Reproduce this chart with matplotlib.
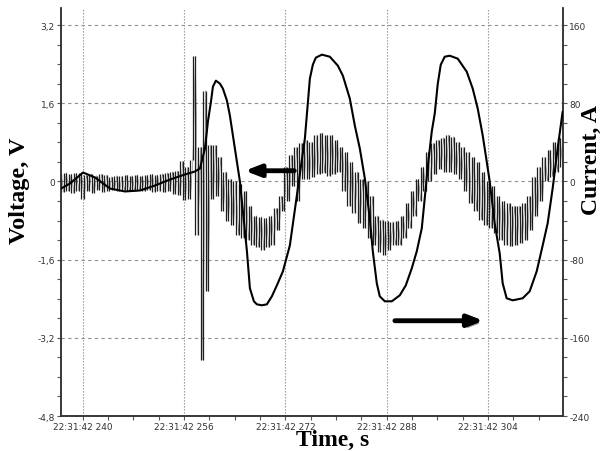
import numpy as np
import matplotlib
matplotlib.use("Agg")
import matplotlib.pyplot as plt
import matplotlib.patheffects as pe
from matplotlib.ticker import FixedLocator, MultipleLocator

# ---------------- data ----------------
# time axis in ms after 22:31:42
v_t0 = 236.6
v_step = 0.4
voltage = [
    0.16, -0.22, 0.18, -0.20, 0.15, -0.24, 0.17, -0.20, 0.18, -0.36,
    0.14, -0.20, 0.16, -0.23, 0.12, -0.18, 0.15, -0.21, 0.13, -0.20,
    0.10, -0.17, 0.12, -0.20, 0.11, -0.18, 0.13, -0.20, 0.12, -0.19,
    0.14, -0.17, 0.12, -0.20, 0.13, -0.18, 0.15, -0.21, 0.14, -0.20,
    0.16, -0.22, 0.18, -0.20, 0.20, -0.25, 0.22, -0.28, 0.42, -0.38,
    0.30, -0.35, 0.45, 2.57, -1.10, 0.70, -3.66, 1.86, -2.25, 0.75,
    -0.35, 0.74, -0.30, 0.50, -0.60, 0.20, -0.80, 0.05, -0.90, 0.00,
    -1.10, -0.05, -1.15, -0.20, -1.20, -0.50, -1.30, -0.70, -1.35, -0.72,
    -1.40, -0.75, -1.35, -0.70, -1.30, -0.55, -1.00, -0.30, -0.60, 0.30,
    -0.40, 0.55, -0.10, 0.70, -0.40, 0.78, 0.05, 0.84, 0.05, 0.80,
    0.10, 0.95, 0.15, 1.00, 0.18, 0.95, 0.12, 0.95, 0.15, 0.85,
    0.20, 0.70, -0.20, 0.60, -0.50, 0.40, -0.65, 0.20, -0.85, 0.05,
    -0.95, 0.00, -1.15, -0.30, -1.30, -0.70, -1.45, -0.78, -1.50, -0.80,
    -1.40, -0.82, -1.30, -0.80, -1.30, -0.70, -1.15, -0.45, -0.96, -0.20,
    -0.70, 0.05, -0.40, 0.30, -0.20, 0.60, 0.00, 0.78, 0.15, 0.85,
    0.25, 0.90, 0.20, 0.95, 0.20, 0.92, 0.15, 0.80, 0.05, 0.70,
    -0.20, 0.60, -0.45, 0.50, -0.60, 0.40, -0.78, 0.20, -0.90, 0.00,
    -0.95, -0.10, -1.05, -0.30, -1.20, -0.40, -1.30, -0.45, -1.33, -0.50,
    -1.30, -0.50, -1.25, -0.45, -1.20, -0.30, -1.00, 0.10, -0.70, 0.30,
    -0.40, 0.50, 0.00, 0.65, 0.10, 0.80, 0.20, 0.90, 0.30,
]

current_t = [
    236.58, 238.00, 240.05, 241.94, 244.31, 246.67, 249.04, 251.41, 253.78, 256.14,
    257.72, 258.51, 259.30, 259.77, 260.25, 260.56, 261.03, 261.67, 262.14, 262.77,
    263.24, 264.03, 264.82, 265.30, 265.93, 266.40, 267.03, 267.50, 268.29, 269.08,
    269.87, 270.66, 271.61, 272.71, 273.97, 275.08, 275.87, 276.34, 276.81, 277.76,
    279.02, 280.29, 281.08, 282.18, 282.97, 283.76, 284.55, 285.34, 285.81, 286.44,
    286.91, 287.70, 288.81, 290.07, 291.02, 291.96, 292.75, 293.54, 294.01, 294.49,
    295.12, 295.59, 296.07, 296.54, 297.17, 297.96, 299.22, 300.64, 301.59, 302.38,
    303.17, 303.80, 304.27, 305.06, 305.85, 306.32, 306.95, 307.90, 309.48, 310.58,
    311.69, 312.64, 313.42, 314.21, 315.00, 315.79,
]
current_a = [
    -7.2, -2.0, 9.2, 4.1, -7.2, -10.2, -9.2, -4.1, 2.0, 7.2,
    10.2, 13.3, 33.7, 61.3, 81.7, 97.1, 103.2, 100.1, 95.0, 82.8,
    67.4, 33.7, 0.0, -30.7, -71.5, -109.3, -122.6, -125.7, -126.7, -125.7,
    -117.5, -106.3, -92.0, -65.4, -7.2, 43.9, 105.3, 119.5, 126.7, 129.8,
    127.7, 118.5, 108.3, 84.8, 57.2, 33.7, 3.1, -37.8, -71.5, -104.2,
    -117.5, -122.6, -122.6, -116.5, -106.3, -88.9, -71.5, -48.0, -17.4, 15.3,
    51.1, 69.5, 100.1, 119.5, 127.7, 128.7, 125.7, 112.4, 95.0, 74.6,
    47.0, 20.4, 0.0, -42.9, -73.6, -104.2, -119.5, -121.6, -119.5, -112.4,
    -92.0, -65.4, -42.9, -7.2, 33.7, 71.5,
]

x_ticks = [240, 256, 272, 288, 304]
x_tick_labels = ["22:31:42 240", "22:31:42 256", "22:31:42 272",
                 "22:31:42 288", "22:31:42 304"]
v_ticks = [-4.8, -3.2, -1.6, 0, 1.6, 3.2]
v_tick_labels = ["-4,8", "-3,2", "-1,6", "0", "1,6", "3,2"]
a_ticks = [-240, -160, -80, 0, 80, 160]
a_tick_labels = ["-240", "-160", "-80", "0", "80", "160"]

# ---------------- figure ----------------
fig = plt.figure(figsize=(6.03, 4.52), dpi=100)
ax = fig.add_axes([0.1012, 0.0774, 0.8325, 0.9026])
ax2 = ax.twinx()

v_time = v_t0 + v_step * np.arange(len(voltage))
v_arr = np.asarray(voltage)
# the oscillating voltage trace, drawn as dense vertical strokes between successive samples
ax.vlines(v_time[:-1], np.minimum(v_arr[:-1], v_arr[1:]), np.maximum(v_arr[:-1], v_arr[1:]),
          color="#1e1e1e", lw=0.9, zorder=3)
ax.plot(v_time, v_arr, color="#1e1e1e", lw=0.4, alpha=0.6, zorder=3)
ax2.plot(current_t, current_a, color="black", lw=1.5, zorder=4,
         solid_capstyle="round", solid_joinstyle="round")

ax.set_xlim(236.57, 315.85)
ax.set_ylim(-4.8, 3.55)
ax2.set_ylim(-240, 177.5)

# grid
for y in [-3.2, -1.6, 0, 1.6, 3.2]:
    ax.axhline(y, color="#909090", lw=0.8, dashes=(3, 3), zorder=1)
for x in x_ticks:
    ax.axvline(x, color="#909090", lw=0.8, dashes=(1.2, 1.5), zorder=1)

tick_color = "#333333"
ax.xaxis.set_major_locator(FixedLocator(x_ticks))
ax.set_xticklabels(x_tick_labels)
ax.xaxis.set_minor_locator(MultipleLocator(4))
ax.yaxis.set_major_locator(FixedLocator(v_ticks))
ax.set_yticklabels(v_tick_labels)
ax.yaxis.set_minor_locator(MultipleLocator(0.4))
ax2.yaxis.set_major_locator(FixedLocator(a_ticks))
ax2.set_yticklabels(a_tick_labels)
ax2.yaxis.set_minor_locator(MultipleLocator(20))

for a in (ax, ax2):
    a.tick_params(which="both", direction="out", length=3, width=0.8,
                  color="#555555", labelsize=6.5, labelcolor=tick_color, pad=1.5)
    a.spines["top"].set_visible(False)
    for s in ("left", "right", "bottom"):
        a.spines[s].set_color("#333333")
        a.spines[s].set_linewidth(1.1)

# arrows
ann1 = ax.annotate("", xy=(265.6, 0.22), xytext=(273.4, 0.22),
                   arrowprops=dict(arrowstyle="-|>,head_width=0.35,head_length=0.9",
                                   lw=3.5, color="black", shrinkA=0, shrinkB=0),
                   zorder=6)
ann2 = ax.annotate("", xy=(303.3, -2.85), xytext=(289.3, -2.85),
                   arrowprops=dict(arrowstyle="-|>,head_width=0.35,head_length=0.9",
                                   lw=3.5, color="black", shrinkA=0, shrinkB=0),
                   zorder=6)
for ann in (ann1, ann2):
    ann.arrow_patch.set_path_effects([pe.SimplePatchShadow(offset=(2, -2), alpha=0.35),
                                      pe.Normal()])

serif = ["Liberation Serif", "DejaVu Serif"]
fig.text(20 / 603, 1 - 191 / 452, "Voltage, V", rotation=90, ha="center", va="center",
         fontsize=17.5, fontweight="bold", family=serif)
fig.text(591 / 603, 1 - 160 / 452, "Current, A", rotation=90, ha="center", va="center",
         fontsize=17, fontweight="bold", family=serif)
fig.text(333 / 603, 1 - 440 / 452, "Time, s", ha="center", va="center",
         fontsize=17, fontweight="bold", family=serif)

fig.savefig("out.png", dpi=100)
